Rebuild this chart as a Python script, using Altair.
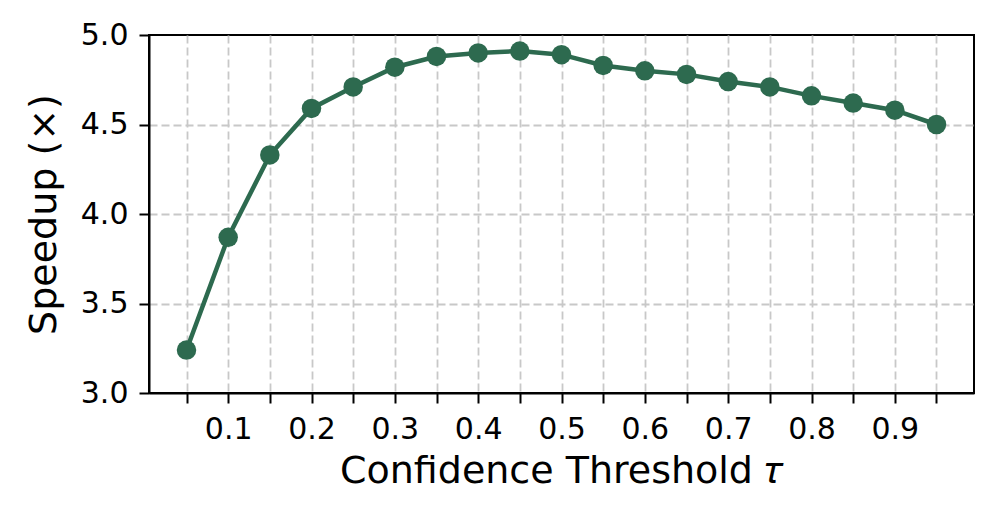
import altair as alt
import pandas as pd

thresholds = [0.05, 0.10, 0.15, 0.20, 0.25, 0.30, 0.35, 0.40, 0.45, 0.50,
              0.55, 0.60, 0.65, 0.70, 0.75, 0.80, 0.85, 0.90, 0.95]
speedups = [3.24, 3.87, 4.33, 4.59, 4.71, 4.82, 4.88, 4.90, 4.91, 4.89,
            4.83, 4.80, 4.78, 4.74, 4.71, 4.66, 4.62, 4.58, 4.50]
y_ticks = [3.0, 3.5, 4.0, 4.5, 5.0]

df = pd.DataFrame({"tau": thresholds, "speedup": speedups})

COLOR = "#2d6a4f"
FONT = "DejaVu Sans"

x_enc = alt.X(
    "tau:Q",
    scale=alt.Scale(domain=[0.005, 0.995], nice=False, zero=False),
    axis=alt.Axis(
        values=thresholds,
        labelExpr="round(datum.value*100) % 10 == 0 ? format(datum.value, '.1f') : ''",
        title="Confidence Threshold \U0001D70F",
    ),
)
y_enc = alt.Y(
    "speedup:Q",
    scale=alt.Scale(domain=[3.0, 5.0], nice=False, zero=False),
    axis=alt.Axis(
        values=y_ticks,
        format=".1f",
        title="Speedup (×)",
        gridOpacity={"condition": {"test": "datum.value >= 5 || datum.value <= 3", "value": 0}, "value": 1},
    ),
)

base = alt.Chart(df).encode(x=x_enc, y=y_enc)
line = base.mark_line(color=COLOR, strokeWidth=4.5)
points = base.mark_circle(color=COLOR, size=380, opacity=1)

chart = (
    (line + points)
    .properties(
        width=825,
        height=358,
        autosize=alt.AutoSizeParams(type="none"),
        padding={"left": 141, "top": 27, "right": 15, "bottom": 110},
    )
    .configure_view(stroke="black", strokeWidth=2)
    .configure_axis(
        labelFont=FONT,
        titleFont=FONT,
        labelFontSize=30,
        titleFontSize=38,
        labelColor="black",
        titleColor="black",
        titleFontWeight="normal",
        tickColor="black",
        tickSize=10,
        tickWidth=2,
        domainColor="black",
        domainWidth=2,
        labelPadding=11,
        grid=True,
        gridColor="#c8c8c8",
        gridWidth=1.8,
        gridDash=[8, 4],
    )
    .configure_axisX(titlePadding=8)
    .configure_axisY(titlePadding=17)
)

chart.save("out.html", embed_options={"renderer": "svg", "actions": False})
